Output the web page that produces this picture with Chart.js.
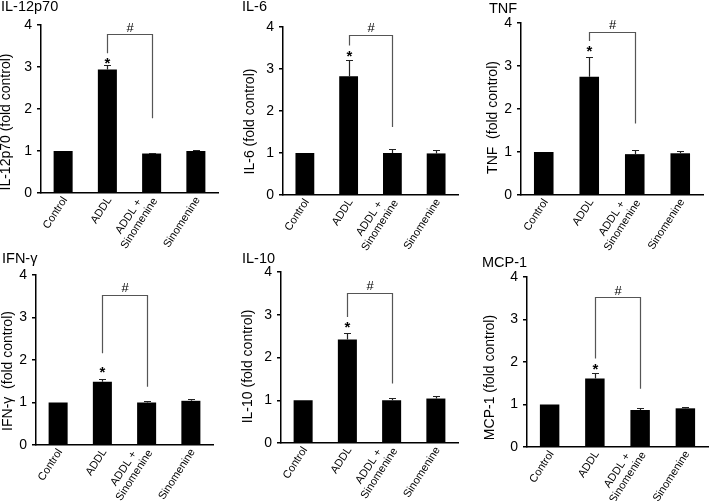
<!DOCTYPE html>
<html><head><meta charset="utf-8">
<script src="https://cdn.jsdelivr.net/npm/chart.js@4.4.0/dist/chart.umd.min.js"></script>
<style>
html,body{margin:0;padding:0;background:#fff;}
#wrap{position:relative;width:709px;height:501px;overflow:hidden;background:#fff;}
#wrap canvas{position:absolute;}
</style></head><body><div id="wrap"></div>
<script>
// ---------- data ----------
const categories = ['Control', 'ADDL', ['ADDL +', 'Sinomenine'], 'Sinomenine'];
const yTickValues = [0, 1, 2, 3, 4];
const panelTitles = ['IL-12p70', 'IL-6', 'TNF', 'IFN-\u03b3', 'IL-10', 'MCP-1'];
const yAxisTitles = ['IL-12p70 (fold control)', 'IL-6 (fold control)', 'TNF  (fold control)',
                     'IFN-\u03b3  (fold control)', 'IL-10 (fold control)', 'MCP-1 (fold control)'];

const il12p70Means = [1.00, 2.94, 0.94, 1.00];
const il12p70Sem   = [0.00, 0.10, 0.02, 0.02];
const il6Means     = [1.00, 2.83, 1.00, 0.99];
const il6Sem       = [0.00, 0.39, 0.10, 0.07];
const tnfMeans     = [1.00, 2.75, 0.95, 0.97];
const tnfSem       = [0.00, 0.46, 0.09, 0.06];
const ifngMeans    = [1.00, 1.49, 1.00, 1.04];
const ifngSem      = [0.00, 0.06, 0.04, 0.04];
const il10Means    = [1.00, 2.42, 1.00, 1.04];
const il10Sem      = [0.00, 0.16, 0.05, 0.05];
const mcp1Means    = [1.00, 1.61, 0.87, 0.91];
const mcp1Sem      = [0.00, 0.12, 0.04, 0.04];

// significance marks (y values): asterisk over ADDL, bracket ADDL -> ADDL+Sinomenine with '#'
const asteriskLevel   = [3.18, 3.40, 3.42, 1.80, 2.79, 1.92];
const bracketTop      = [3.79, 3.82, 3.79, 3.53, 3.52, 3.53];
const bracketLeftEnd  = [3.33, 3.56, 3.58, 2.16, 2.95, 2.08];
const bracketRightEnd = [1.78, 1.62, 1.66, 1.37, 1.39, 1.37];
const hashLevel       = [3.95, 4.00, 3.97, 3.71, 3.70, 3.69];

const seriesMeans = [il12p70Means, il6Means, tnfMeans, ifngMeans, il10Means, mcp1Means];
const seriesSem   = [il12p70Sem, il6Sem, tnfSem, ifngSem, il10Sem, mcp1Sem];

// ---------- layout (page pixels) ----------
const panelLayout = [
  {box: [0, 0, 238, 262],     area: [41, 25, 218, 193],  title: [1, 11],    yTitle: [6, 122]},
  {box: [238, 0, 238, 262],   area: [283, 27, 458, 195], title: [242, 11],  yTitle: [250, 121.5]},
  {box: [476, 0, 233, 262],   area: [521, 23, 703, 195], title: [489, 13],  yTitle: [493, 117.5]},
  {box: [0, 250, 238, 251],   area: [36, 275, 213, 445], title: [2, 263],   yTitle: [8, 371]},
  {box: [238, 250, 238, 251], area: [281, 272, 458, 443], title: [242, 263], yTitle: [248, 366.5]},
  {box: [476, 250, 233, 251], area: [527, 277, 708, 447], title: [482, 266.5], yTitle: [490, 377.5]}
];
const FONT = '"Liberation Sans", Arial, Helvetica, sans-serif';
const Y_AXIS_W = 30, X_AXIS_H = 10;

const decoPlugin = {
  id: 'deco',
  afterDatasetsDraw(chart, args, o) {
    const ctx = chart.ctx, xs = chart.scales.x, ys = chart.scales.y;
    const p = o.index;
    const means = seriesMeans[p], sem = seriesSem[p];
    // error bars
    ctx.save();
    ctx.strokeStyle = '#222'; ctx.lineWidth = 1.2;
    means.forEach((m, i) => {
      if (!sem[i]) return;
      const x = Math.round(xs.getPixelForValue(i)) + 0.5;
      const y0 = ys.getPixelForValue(m), y1 = Math.round(ys.getPixelForValue(m + sem[i])) + 0.5;
      ctx.beginPath(); ctx.moveTo(x, y0); ctx.lineTo(x, y1);
      ctx.moveTo(x - 3.5, y1); ctx.lineTo(x + 3.5, y1); ctx.stroke();
    });
    // bracket
    const xl = Math.round(xs.getPixelForValue(1)) + 0.5, xr = Math.round(xs.getPixelForValue(2)) + 0.5;
    const yt = Math.round(ys.getPixelForValue(bracketTop[p])) + 0.5;
    ctx.strokeStyle = '#555'; ctx.lineWidth = 1.2;
    ctx.beginPath();
    ctx.moveTo(xl, ys.getPixelForValue(bracketLeftEnd[p])); ctx.lineTo(xl, yt);
    ctx.lineTo(xr, yt); ctx.lineTo(xr, ys.getPixelForValue(bracketRightEnd[p]));
    ctx.stroke();
    // asterisk and hash
    ctx.fillStyle = '#000'; ctx.textAlign = 'center'; ctx.textBaseline = 'alphabetic';
    ctx.font = 'bold 15px ' + FONT;
    ctx.fillText('*', xl, ys.getPixelForValue(asteriskLevel[p]) + 8.5);
    ctx.font = '13px ' + FONT;
    ctx.fillText('#', (xl + xr) / 2, ys.getPixelForValue(hashLevel[p]) + 5);
    ctx.restore();
  },
  afterDraw(chart, args, o) {
    const ctx = chart.ctx, xs = chart.scales.x;
    const L = panelLayout[o.index];
    const bx = L.box[0], by = L.box[1];
    ctx.save();
    ctx.fillStyle = '#000';
    // panel title
    ctx.font = '14.5px ' + FONT; ctx.textAlign = 'left'; ctx.textBaseline = 'alphabetic';
    ctx.fillText(panelTitles[o.index], L.title[0] - bx, L.title[1] - by);
    // y axis title
    ctx.save();
    ctx.translate(L.yTitle[0] - bx, L.yTitle[1] - by);
    ctx.rotate(-Math.PI / 2);
    ctx.font = '14px ' + FONT; ctx.textAlign = 'center'; ctx.textBaseline = 'middle';
    ctx.fillText(yAxisTitles[o.index], 0, 0);
    ctx.restore();
    // rotated category labels
    const ang = -57 * Math.PI / 180, lh = 12.5;
    ctx.font = '11px ' + FONT;
    categories.forEach((c, i) => {
      const lines = Array.isArray(c) ? c : [c];
      const maxW = Math.max(...lines.map(t => ctx.measureText(t).width));
      ctx.save();
      ctx.translate(xs.getPixelForTick(i) + 2, chart.chartArea.bottom + 5);
      ctx.rotate(ang);
      ctx.textAlign = 'center'; ctx.textBaseline = 'middle';
      lines.forEach((t, k) => ctx.fillText(t, -maxW / 2, (k - (lines.length - 1) * 0.85) * lh));
      ctx.restore();
    });
    ctx.restore();
  }
};

const wrap = document.getElementById('wrap');
panelLayout.forEach((L, p) => {
  const [bx, by, bw, bh] = L.box;
  const [al, at, ar, ab] = L.area;
  const cv = document.createElement('canvas');
  cv.width = bw; cv.height = bh;
  cv.style.left = bx + 'px'; cv.style.top = by + 'px';
  cv.style.width = bw + 'px'; cv.style.height = bh + 'px';
  wrap.appendChild(cv);
  new Chart(cv, {
    type: 'bar',
    data: {
      labels: categories,
      datasets: [{
        data: seriesMeans[p],
        backgroundColor: '#000',
        borderWidth: 0,
        barPercentage: 0.43,
        categoryPercentage: 1.0
      }]
    },
    options: {
      responsive: false,
      animation: false,
      devicePixelRatio: 1,
      layout: {padding: {left: al - bx - Y_AXIS_W, top: at - by, right: bx + bw - ar, bottom: by + bh - ab - X_AXIS_H}},
      plugins: {legend: {display: false}, tooltip: {enabled: false}, title: {display: false}, deco: {index: p}},
      scales: {
        x: {
          grid: {display: false},
          border: {display: true, color: '#000', width: 1.5},
          ticks: {display: false},
          afterFit: s => { s.height = X_AXIS_H; }
        },
        y: {
          min: 0, max: 4,
          afterBuildTicks: s => { s.ticks = yTickValues.map(v => ({value: v})); },
          grid: {display: true, drawOnChartArea: false, drawTicks: true, tickLength: 4, color: '#000', lineWidth: 1.5},
          border: {display: true, color: '#000', width: 1.5},
          ticks: {color: '#000', padding: 5, font: {family: FONT, size: 14}},
          afterFit: s => { s.width = Y_AXIS_W; }
        }
      }
    },
    plugins: [decoPlugin]
  });
});
</script>
</body></html>
